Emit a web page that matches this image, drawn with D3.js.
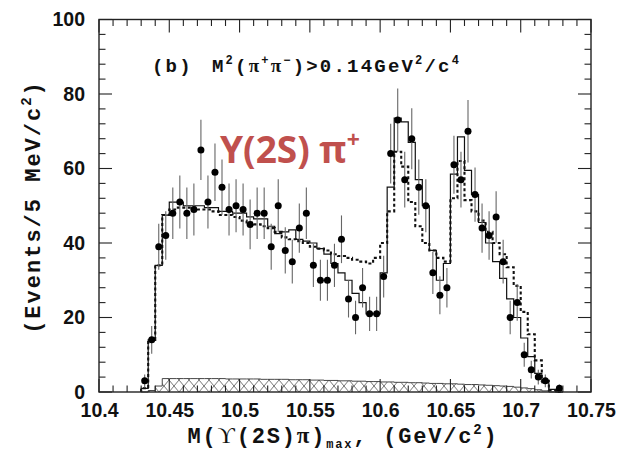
<!DOCTYPE html>
<html><head><meta charset="utf-8">
<script src="https://cdn.jsdelivr.net/npm/d3@7"></script>
<style>html,body{margin:0;padding:0;background:#fff}</style>
</head><body>
<svg id="c" width="618" height="455" xmlns="http://www.w3.org/2000/svg"></svg>
<script>
// ---- data (5 MeV bins starting at 10.430 GeV) ----
const binLow = 10.43;
const binWidth = 0.005;
const dataCounts = [3,14,39,42,48,51,48,49,65,51,59,55,49,50,49,45,48,48,39,50,38,35,44,48,34,30,30,34,41,25,20,28,21,21,31,64,73,57,68,55,50,32,26,28,61,57,70,53,44,42,47,35,20,24,10,6,4,3,null,1];
const dataErrors = [1.7,3.7,6.2,6.5,6.9,7.1,6.9,7,8.1,7.1,7.7,7.4,7,7.1,7,6.7,6.9,6.9,6.2,7.1,6.2,5.9,6.6,6.9,5.8,5.5,5.5,5.8,6.4,5,4.5,5.3,4.6,4.6,5.6,8,8.5,7.5,8.2,7.4,7.1,5.7,5.1,5.3,7.8,7.5,8.4,7.3,6.6,6.5,6.9,5.9,4.5,4.9,3.2,2.4,2,1.7,null,1];
const fitSolid = [1,14,34,47.5,51,51,50,50,50,49.5,49.5,48.5,48.5,48,48,47,46.5,46.5,44.5,42.5,43,43.5,41,40.5,40,38.5,37,34.5,32,30,26.5,24,21,21,32,55,73.5,72.5,67,57,50,38,30,34.5,58.5,68.5,59.5,53,45.5,40,35,30.5,25,20,14.5,9.5,5,2.5,0.7,0];
const fitDotted = [1,14,34,47.5,49,49.5,49.5,49.5,49,49,48.5,47.5,47.5,47,46,45.5,45,44.5,44,43,41.5,41,40.5,40,39,38.5,38,37,36.5,36,35.5,35,34.5,36,40,48.5,64.5,60.5,51,44.5,40,38,36,35,52,62,51.5,48.5,46,43,40,37,33.5,28.5,21.5,15.5,8.5,3,0.5,0];
const background = [0,0.4,1.6,3.6,3.6,3.6,3.6,3.6,3.6,3.6,3.6,3.6,3.5,3.5,3.5,3.5,3.5,3.4,3.4,3.4,3.4,3.3,3.3,3.3,3.2,3.2,3.1,3.1,3.0,3.0,2.9,2.9,2.8,2.8,2.7,2.7,2.6,2.6,2.5,2.5,2.4,2.3,2.3,2.2,2.2,2.1,2.0,2.0,1.9,1.8,1.7,1.6,1.5,1.3,1.1,0.9,0.6,0.3,0,0];
const xTicks = [10.4,10.45,10.5,10.55,10.6,10.65,10.7,10.75];
const xTickLabels = ["10.4","10.45","10.5","10.55","10.6","10.65","10.7","10.75"];
const yTicks = [0,20,40,60,80,100];
const yTickLabels = ["0","20","40","60","80","100"];

// ---- layout ----
const L = 99, R = 591, T = 19.5, B = 392;
const svg = d3.select("#c");
const x = d3.scaleLinear().domain([10.4, 10.75]).range([L, R]);
const y = d3.scaleLinear().domain([0, 100]).range([B, T]);
const edge = k => binLow + k * binWidth;
const center = k => binLow + (k + 0.5) * binWidth;

function stepPath(vals) {
  let p = `M${x(edge(0))},${y(0)}`;
  vals.forEach((v, k) => { p += `V${y(v)}H${x(edge(k + 1))}`; });
  p += `V${y(0)}`;
  return p;
}

// hatch pattern
const defs = svg.append("defs");
const pat = defs.append("pattern").attr("id", "xh").attr("patternUnits", "userSpaceOnUse")
  .attr("x", L).attr("y", B - 12).attr("width", 10).attr("height", 12);
pat.append("path").attr("d", "M0,0L10,12M10,0L0,12").attr("stroke", "#555").attr("stroke-width", 0.8).attr("fill", "none");

svg.append("path").attr("d", stepPath(background)).attr("fill", "url(#xh)")
  .attr("stroke", "#333").attr("stroke-width", 0.9);

svg.append("path").attr("d", stepPath(fitDotted)).attr("fill", "none")
  .attr("stroke", "#111").attr("stroke-width", 2.1).attr("stroke-dasharray", "3,2.5");
svg.append("path").attr("d", stepPath(fitSolid)).attr("fill", "none")
  .attr("stroke", "#111").attr("stroke-width", 1.2);

// data points
const pts = dataCounts.map((v, k) => ({k, v, e: dataErrors[k]})).filter(d => d.v !== null);
svg.append("g").selectAll("line").data(pts).join("line")
  .attr("x1", d => x(center(d.k))).attr("x2", d => x(center(d.k)))
  .attr("y1", d => y(Math.max(0, d.v - d.e))).attr("y2", d => y(d.v + d.e))
  .attr("stroke", "#666").attr("stroke-width", 1.1);
svg.append("g").selectAll("circle").data(pts).join("circle")
  .attr("cx", d => x(center(d.k))).attr("cy", d => y(d.v)).attr("r", 3.5).attr("fill", "#000");

// frame
svg.append("rect").attr("x", L).attr("y", T).attr("width", R - L).attr("height", B - T)
  .attr("fill", "none").attr("stroke", "#222").attr("stroke-width", 1.4);

// ticks
const tk = svg.append("g").attr("stroke", "#222").attr("stroke-width", 1.1);
const xMinor = x.ticks(35);
xMinor.forEach(v => {
  const major = xTicks.some(t => Math.abs(t - v) < 1e-6);
  const len = major ? 13 : 6.5;
  tk.append("line").attr("x1", x(v)).attr("x2", x(v)).attr("y1", B).attr("y2", B - len);
  tk.append("line").attr("x1", x(v)).attr("x2", x(v)).attr("y1", T).attr("y2", T + len);
});
d3.range(0, 101, 4).forEach(v => {
  const major = yTicks.includes(v);
  const len = major ? 13 : 6.5;
  tk.append("line").attr("x1", L).attr("x2", L + len).attr("y1", y(v)).attr("y2", y(v));
  tk.append("line").attr("x1", R).attr("x2", R - len).attr("y1", y(v)).attr("y2", y(v));
});

// tick labels via axes
const xa = svg.append("g").attr("transform", `translate(0,${B})`)
  .call(d3.axisBottom(x).tickValues(xTicks).tickFormat((d, i) => xTickLabels[i]).tickSize(0).tickPadding(11));
const ya = svg.append("g").attr("transform", `translate(${L},0)`)
  .call(d3.axisLeft(y).tickValues(yTicks).tickFormat((d, i) => yTickLabels[i]).tickSize(0).tickPadding(14));
[xa, ya].forEach(a => {
  a.select(".domain").remove();
  a.selectAll("text").attr("font-family", "Liberation Sans, Arial, sans-serif")
    .attr("font-weight", "bold").attr("font-size", 19.5).attr("fill", "#111");
});

// rich text helper
function rich(sel, segs) {
  segs.forEach(s => {
    const t = sel.append("tspan").text(s.t);
    if (s.x !== undefined) t.attr("x", s.x);
    if (s.ff) t.attr("font-family", s.ff);
    if (s.fw) t.attr("font-weight", s.fw);
    if (s.fs) t.attr("font-size", s.fs);
    if (s.dy) t.attr("dy", s.dy);
    if (s.ls !== undefined) t.attr("letter-spacing", s.ls);
  });
}
const mono = "Liberation Mono, DejaVu Sans Mono, monospace";
const serif = "Liberation Serif, DejaVu Serif, serif";

// annotation (b)
const ann = svg.append("text").attr("x", 152).attr("y", 72).attr("font-family", mono)
  .attr("font-weight", "bold").attr("font-size", 19).attr("letter-spacing", 2.2).attr("fill", "#111");
rich(ann, [
  {t: "(b)"}, {t: "M", x: 212},
  {t: "2", fs: 12, dy: -8}, {t: "(", dy: 8}, {t: "π", ff: serif},
  {t: "+", fs: 12, dy: -8}, {t: "π", ff: serif, dy: 8},
  {t: "−", fs: 12, dy: -8}, {t: ")>0.14", dy: 8}, {t: "GeV"},
  {t: "2", fs: 12, dy: -8}, {t: "/c", dy: 8}, {t: "4", fs: 12, dy: -8}
]);

// red label
const red = svg.append("text").attr("x", 220).attr("y", 163)
  .attr("font-family", "Open Sans, Lato, sans-serif").attr("font-weight", "bold")
  .attr("font-size", 37).attr("fill", "#c0504d");
rich(red, [{t: "Υ(2S) π"}, {t: "+", fs: 23, dy: -15}]);

// y title
const yt = svg.append("text").attr("transform", "translate(40,207) rotate(-90)")
  .attr("text-anchor", "middle").attr("font-family", mono).attr("font-weight", "bold")
  .attr("font-size", 22).attr("letter-spacing", 2).attr("fill", "#111");
rich(yt, [{t: "(Events/5 MeV/c"}, {t: "2", fs: 14, dy: -9}, {t: ")", dy: 9}]);

// x title
const xt = svg.append("text").attr("x", 343).attr("y", 443)
  .attr("text-anchor", "middle").attr("font-family", mono).attr("font-weight", "bold")
  .attr("font-size", 22).attr("letter-spacing", 1.8).attr("fill", "#111");
rich(xt, [
  {t: "M("}, {t: "ϒ", ff: serif, fw: "normal", fs: 24}, {t: "(2S)"}, {t: "π", ff: serif, fs: 23}, {t: ")"},
  {t: "max", fs: 12, dy: 5}, {t: ",  (GeV/c", dy: -5}, {t: "2", fs: 14, dy: -9}, {t: ")", dy: 9}
]);
</script>
</body></html>
